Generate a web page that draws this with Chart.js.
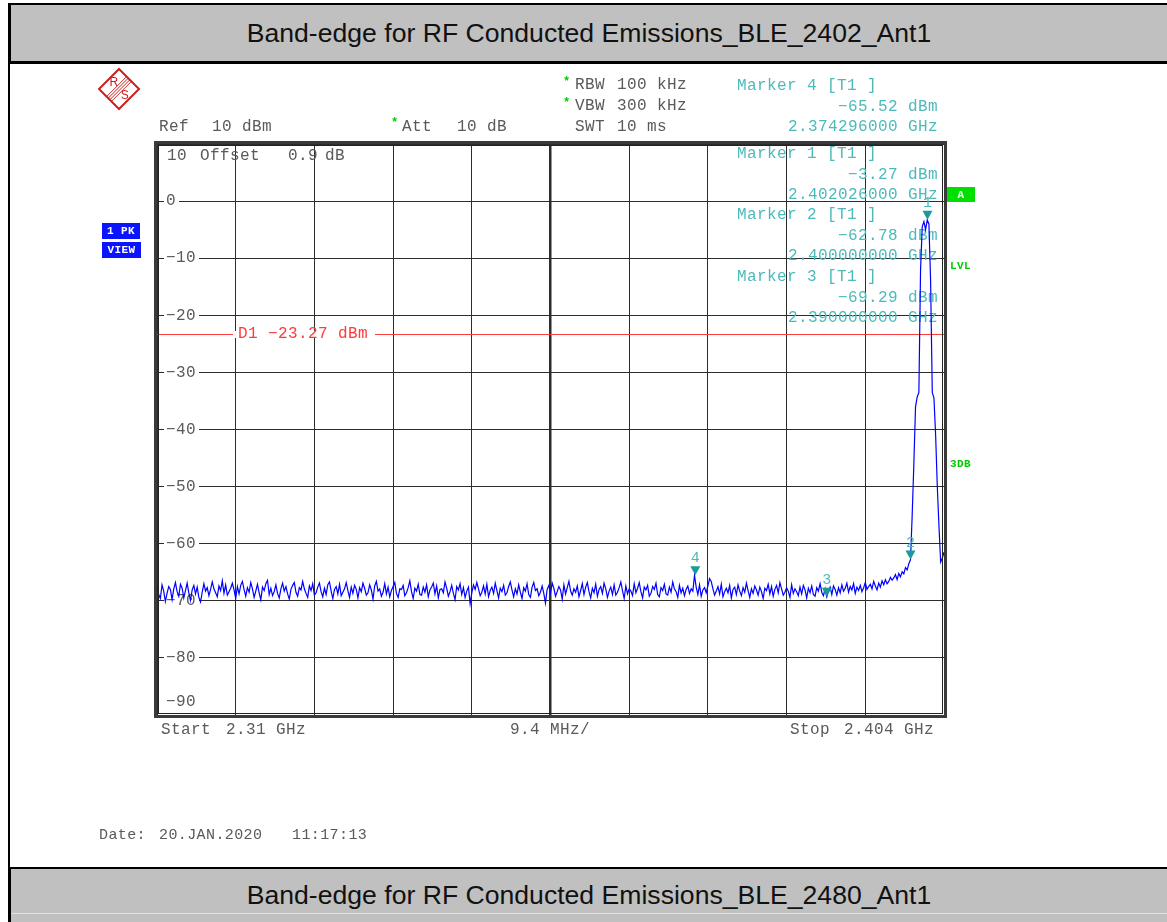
<!DOCTYPE html>
<html>
<head>
<meta charset="utf-8">
<script src="https://cdn.jsdelivr.net/npm/chart.js@4.4.1/dist/chart.umd.min.js"></script>
<style>
  body { margin: 0; background: #fff; width: 1167px; height: 922px; position: relative; overflow: hidden; }
  #plot { position: absolute; left: 0; top: 0; }
  .bar { position: absolute; left: 9px; width: 1158px; background: #c0c0c0; font-family: "Liberation Sans", Arial, sans-serif;
         font-size: 26.6px; color: #111; text-align: center; box-sizing: border-box; }
  #topbar { top: 3px; height: 61px; border-top: 2px solid #000; border-bottom: 3px solid #000; border-left: 2px solid #000; line-height: 56px; }
  #botbar { top: 867px; height: 55px; border-top: 2px solid #000; border-left: 2px solid #000; line-height: 52px; }
  #botbar .hl { position: absolute; left: 0; right: 0; top: 44px; height: 1px; background: #e2e2e2; }
  #leftrule { position: absolute; left: 8px; top: 3px; width: 2px; height: 919px; background: #000; }
</style>
</head>
<body>
<canvas id="plot" width="1167" height="922"></canvas>
<div id="leftrule"></div>
<div class="bar" id="topbar">Band-edge for RF Conducted Emissions_BLE_2402_Ant1</div>
<div class="bar" id="botbar">Band-edge for RF Conducted Emissions_BLE_2480_Ant1<div class="hl"></div></div>
<script>
// --- DADES ---
const FREQ_START = 2310.0; // MHz
const FREQ_STOP = 2404.0;
const FREQ_STEP = 0.2;
const X_GRID = [2310, 2319.4, 2328.8, 2338.2, 2347.6, 2357, 2366.4, 2375.8, 2385.2, 2394.6, 2404];
const Y_TICKS = [10, 0, -10, -20, -30, -40, -50, -60, -70, -80, -90];

// nivell de la traça (dBm), un valor cada 0.2 MHz
const LEVELS = [
  -67.4, -68.9, -69.6, -67.2, -68.3, -70.1, -68.7, -67.5, -68.0, -69.8, -67.9, -66.8, -68.4, -69.2, -67.1, -67.8, -69.5, -68.2, -66.9, -68.6,
  -69.9, -68.1, -67.3, -68.8, -67.6, -69.4, -70.2, -68.5, -67.0, -68.3, -67.7, -69.1, -68.0, -66.7, -67.9, -68.6, -69.3, -67.4, -68.2, -66.5,
  -68.7, -67.2, -69.0, -68.4, -67.8, -66.9, -68.1, -69.6, -67.5, -68.8, -67.3, -66.6, -68.0, -69.2, -67.7, -68.5, -66.8, -67.9, -69.4, -68.3,
  -67.1, -68.6, -69.8, -67.6, -68.2, -67.0, -66.4, -68.9, -67.8, -69.1, -68.4, -67.2, -68.7, -69.5, -67.9, -66.9, -68.3, -67.5, -68.8, -69.7,
  -68.0, -67.3, -66.8, -68.5, -69.2, -67.7, -68.1, -66.6, -67.9, -68.7, -69.4, -67.4, -68.2, -67.0, -69.0, -68.6, -67.6, -66.9, -68.4, -69.3,
  -67.8, -68.9, -67.2, -66.7, -68.3, -69.6, -68.0, -67.5, -68.8, -67.1, -69.1, -68.5, -67.9, -66.8, -68.2, -69.4, -67.6, -68.7, -67.3, -68.0,
  -69.5, -67.7, -68.4, -66.9, -67.8, -69.0, -68.6, -67.2, -68.1, -69.7, -67.4, -66.6, -68.3, -67.9, -69.2, -68.5, -67.0, -68.8, -67.6, -69.3,
  -68.2, -67.5, -66.8, -68.7, -69.4, -67.9, -68.0, -67.3, -69.1, -68.6, -67.7, -66.5, -68.4, -69.6, -67.8, -68.3, -67.1, -68.9, -69.0, -67.6,
  -68.5, -67.2, -69.3, -68.1, -67.6, -66.9, -68.8, -67.4, -69.5, -68.0, -67.9, -68.6, -66.7, -67.8, -69.2, -68.4, -67.3, -68.7, -69.8, -67.5,
  -68.1, -67.0, -68.9, -67.7, -69.4, -68.3, -67.6, -70.5, -68.6, -67.2, -68.0, -66.8, -67.9, -69.1, -68.5, -67.4, -68.8, -67.1, -69.3, -68.2,
  -67.6, -68.7, -66.9, -68.2, -69.5, -67.8, -68.4, -67.3, -69.0, -68.6, -67.5, -66.7, -68.1, -69.3, -67.9, -68.8, -67.2, -68.5, -69.6, -67.7,
  -68.3, -67.0, -68.9, -69.4, -67.6, -66.8, -68.2, -67.9, -69.1, -68.5, -67.4, -68.7, -70.4, -68.0, -67.3, -68.6, -66.9, -67.8, -69.2, -68.4,
  -67.5, -68.1, -69.7, -67.2, -68.8, -67.7, -66.6, -68.3, -69.0, -67.9, -68.5, -67.4, -69.3, -68.2, -67.0, -68.9, -67.6, -66.8, -68.4, -69.5,
  -67.8, -68.6, -67.1, -69.2, -68.0, -67.5, -68.7, -66.9, -67.9, -69.4, -68.3, -67.6, -68.9, -67.2, -69.0, -68.5, -67.7, -66.7, -68.2, -69.6,
  -67.4, -68.8, -67.9, -68.3, -69.1, -67.0, -68.6, -67.8, -66.8, -68.4, -69.5, -67.6, -68.1, -67.3, -69.2, -68.7, -67.5, -68.0, -66.9, -68.9,
  -69.3, -67.7, -68.2, -67.1, -68.8, -69.0, -67.6, -68.5, -66.7, -67.9, -68.4, -69.4, -67.3, -68.6, -67.8, -69.1, -68.0, -67.4, -68.7, -67.9,
  -68.3, -65.5, -67.6, -68.9, -67.2, -69.2, -68.1, -67.7, -68.6, -67.4, -66.1, -66.6, -67.9, -69.0, -68.3, -67.5, -68.8, -67.1, -69.3, -68.4,
  -67.8, -68.6, -67.3, -69.5, -68.0, -67.6, -68.9, -67.2, -68.3, -69.1, -67.7, -68.5, -66.9, -68.2, -69.4, -67.9, -68.7, -67.4, -68.1, -69.0,
  -67.6, -68.4, -69.6, -67.8, -68.2, -67.1, -68.8, -67.5, -69.2, -68.0, -67.3, -68.6, -66.8, -67.9, -69.0, -68.5, -67.7, -68.3, -69.4, -67.2,
  -68.7, -67.9, -68.4, -69.1, -67.6, -68.8, -67.3, -68.1, -69.5, -67.8, -68.6, -67.4, -68.9, -69.2, -67.7, -68.3, -67.0, -68.5, -69.1, -67.9,
  -69.3, -68.2, -67.6, -68.9, -67.4, -68.0, -69.0, -67.7, -68.6, -67.2, -68.3, -67.8, -66.9, -68.5, -67.5, -68.1, -67.0, -68.7, -67.6, -68.2,
  -67.3, -68.4, -67.7, -66.8, -68.0, -67.5, -67.1, -67.9, -66.6, -67.4, -68.1, -66.9, -67.6, -66.5, -67.2, -66.3, -67.0, -66.6, -65.9, -66.4,
  // 2398.0 - 2404.0 MHz: flanc i portadora
  -66.0, -65.4, -66.3, -65.2, -65.8, -64.9, -65.3, -64.2, -64.6, -63.5, -62.8,
  -55.0, -46.0, -36.0, -34.3, -33.5, -12.0, -4.5, -3.6, -5.0, -3.3,
  -4.0, -14.0, -33.5, -34.5, -41.0, -50.0, -57.0, -63.2, -62.5, -61.5
];

// markers
const MARKER_IDS = [1, 2, 3, 4];
const MARKER_FREQ = [2402.026, 2400.0, 2390.0, 2374.296]; // MHz
const MARKER_LEVEL = [-3.27, -62.78, -69.29, -65.52]; // dBm
const MARKER_ORDER = [4, 1, 2, 3]; // ordre a la llista

const D1_LEVEL = -23.27;

// --- ESTILS ---
const MONO = "'Liberation Mono', 'Courier New', monospace";
const GREY = "#5a5a5a";
const TEAL = "#4dbaba";
const TEAL_DARK = "#1b9a9a";
const RED = "#ff3a3a";
const GREEN = "#00cc00";

function txt(ctx, s, x, y, color, align, font) {
  ctx.font = font || "16px " + MONO;
  ctx.fillStyle = color;
  ctx.textAlign = align || "left";
  ctx.textBaseline = "middle";
  ctx.fillText(s, x, y);
}

function fmtMinus(v, d) {
  return (v < 0 ? "\u2212" : "") + Math.abs(v).toFixed(d);
}

// text de capçalera i logo
function drawHeader(ctx) {
  // logo R&S
  ctx.save();
  ctx.translate(119, 89);
  ctx.strokeStyle = "#cc2020";
  ctx.lineWidth = 2;
  ctx.beginPath();
  ctx.moveTo(0, -20); ctx.lineTo(20, 0); ctx.lineTo(0, 20); ctx.lineTo(-20, 0); ctx.closePath();
  ctx.stroke();
  ctx.lineWidth = 1;
  for (let k = -1.5; k <= 1.5; k += 1) {
    const px = k * 1.6, py = k * 1.6;
    ctx.beginPath();
    ctx.moveTo(px - 10, py + 10);
    ctx.lineTo(px + 10, py - 10);
    ctx.stroke();
  }
  ctx.fillStyle = "#cc2020";
  ctx.font = "12px 'Liberation Sans', sans-serif";
  ctx.textAlign = "center";
  ctx.textBaseline = "middle";
  ctx.fillText("R", -5, -6);
  ctx.fillText("S", 6, 7);
  ctx.restore();

  txt(ctx, "Ref", 159, 127, GREY);
  txt(ctx, "10 dBm", 212, 127, GREY);
  txt(ctx, "*", 391, 123, GREEN, "left", "bold 12px " + MONO);
  txt(ctx, "Att", 402, 127, GREY);
  txt(ctx, "10 dB", 457, 127, GREY);

  txt(ctx, "*", 563, 82, GREEN, "left", "bold 12px " + MONO);
  txt(ctx, "RBW", 575, 85, GREY);
  txt(ctx, "100 kHz", 617, 85, GREY);
  txt(ctx, "*", 563, 103, GREEN, "left", "bold 12px " + MONO);
  txt(ctx, "VBW", 575, 106, GREY);
  txt(ctx, "300 kHz", 617, 106, GREY);
  txt(ctx, "SWT", 575, 127, GREY);
  txt(ctx, "10 ms", 617, 127, GREY);

  // bloc esquerre
  ctx.fillStyle = "#0a14ff";
  ctx.fillRect(102, 223, 38, 16);
  ctx.fillRect(102, 242, 39, 16);
  txt(ctx, "1 PK", 121, 231.5, "#fff", "center", "bold 11px " + MONO);
  txt(ctx, "VIEW", 121.5, 250.5, "#fff", "center", "bold 11px " + MONO);

  // bloc dret
  ctx.fillStyle = "#00e000";
  ctx.fillRect(947, 187, 28, 15);
  txt(ctx, "A", 961, 195, "#fff", "center", "bold 11px " + MONO);
  txt(ctx, "LVL", 950, 266, GREEN, "left", "bold 11px " + MONO);
  txt(ctx, "3DB", 950, 464, GREEN, "left", "bold 11px " + MONO);

  txt(ctx, "Start", 161, 730, GREY);
  txt(ctx, "2.31 GHz", 226, 730, GREY);
  txt(ctx, "9.4 MHz/", 510, 730, GREY);
  txt(ctx, "Stop", 790, 730, GREY);
  txt(ctx, "2.404 GHz", 934, 730, GREY, "right");

  txt(ctx, "Date:", 99, 835, GREY, "left", "15px " + MONO);
  txt(ctx, "20.JAN.2020", 159, 835, GREY, "left", "15px " + MONO);
  txt(ctx, "11:17:13", 292, 835, GREY, "left", "15px " + MONO);
}

const instrumentPlugin = {
  id: "instrument",
  beforeDatasetsDraw(chart) {
    const { ctx, chartArea: a, scales } = chart;
    const ys = scales.y;
    ctx.save();
    ctx.letterSpacing = "0.4px";

    // etiquetes de l'eix Y dins del gràfic
    Y_TICKS.forEach((v) => {
      let y = ys.getPixelForValue(v);
      if (v === Y_TICKS[0]) {
        y += 12;
        txt(ctx, "10", 167, y, GREY);
        txt(ctx, "Offset", 200, y, GREY);
        txt(ctx, "0.9", 288, y, GREY);
        txt(ctx, "dB", 325, y, GREY);
        return;
      }
      if (v === Y_TICKS[Y_TICKS.length - 1]) y -= 13;
      const s = fmtMinus(v, 0);
      ctx.font = "16px " + MONO;
      const w = ctx.measureText(s).width;
      ctx.fillStyle = "#fff";
      ctx.fillRect(a.left + 7, y - 3, w + 5, 6);
      txt(ctx, s, a.left + 9, y, GREY);
    });

    // línia D1
    const yd = ys.getPixelForValue(D1_LEVEL);
    ctx.strokeStyle = RED;
    ctx.lineWidth = 1;
    ctx.beginPath();
    ctx.moveTo(a.left, yd + 0.5);
    ctx.lineTo(a.right, yd + 0.5);
    ctx.stroke();
    const lab = "D1 " + fmtMinus(D1_LEVEL, 2) + " dBm";
    ctx.font = "16px " + MONO;
    const lw = ctx.measureText(lab).width;
    ctx.fillStyle = "#fff";
    ctx.fillRect(233, yd - 3, lw + 12, 7);
    txt(ctx, lab, 238, yd, RED);

    // llista de markers
    MARKER_ORDER.forEach((id, k) => {
      const i = MARKER_IDS.indexOf(id);
      const y0 = [86, 154, 215, 277][k];
      txt(ctx, "Marker " + id + " [T1 ]", 737, y0, TEAL);
      txt(ctx, fmtMinus(MARKER_LEVEL[i], 2) + " dBm", 938, y0 + 20.5, TEAL, "right");
      txt(ctx, (MARKER_FREQ[i] / 1000).toFixed(9) + " GHz", 938, y0 + 40.5, TEAL, "right");
    });

    drawHeader(ctx);
    ctx.restore();
  },
  afterDatasetsDraw(chart) {
    const { ctx, chartArea: a, scales } = chart;
    ctx.save();
    // triangles de marker
    MARKER_IDS.forEach((id, i) => {
      const x = scales.x.getPixelForValue(MARKER_FREQ[i]);
      const y = scales.y.getPixelForValue(MARKER_LEVEL[i]);
      ctx.fillStyle = TEAL_DARK;
      ctx.beginPath();
      ctx.moveTo(x - 5, y - 9);
      ctx.lineTo(x + 5, y - 9);
      ctx.lineTo(x, y);
      ctx.closePath();
      ctx.fill();
      txt(ctx, String(id), x, y - 17, TEAL, "center", "15px " + MONO);
    });

    // marc
    ctx.strokeStyle = "#3a3a3a";
    ctx.lineWidth = 3;
    ctx.strokeRect(a.left - 1.5, a.top - 1.5, a.right - a.left + 3, a.bottom - a.top + 3);
    ctx.lineWidth = 1;
    ctx.strokeStyle = "#222";
    ctx.strokeRect(a.left + 1.5, a.top + 1.5, a.right - a.left - 3, a.bottom - a.top - 3);
    ctx.restore();
  },
};

const points = LEVELS.map((v, i) => ({ x: FREQ_START + i * FREQ_STEP, y: v }));

new Chart(document.getElementById("plot"), {
  type: "line",
  data: {
    datasets: [
      {
        label: "Trace 1",
        data: points,
        borderColor: "#0000ff",
        borderWidth: 1.2,
        pointRadius: 0,
        tension: 0,
      },
    ],
  },
  options: {
    responsive: false,
    animation: false,
    events: [],
    layout: { padding: { left: 157, top: 144, right: 223, bottom: 207 } },
    plugins: { legend: { display: false }, tooltip: { enabled: false } },
    scales: {
      x: {
        type: "linear",
        min: FREQ_START,
        max: FREQ_STOP,
        afterBuildTicks: (s) => { s.ticks = X_GRID.map((v) => ({ value: v })); },
        afterFit: (s) => { s.height = 0; },
        ticks: { display: false },
        border: { display: false },
        grid: {
          drawTicks: false,
          color: "#2c2c2c",
          lineWidth: (c) => (c.index === 5 ? 2.5 : 1),
        },
      },
      y: {
        type: "linear",
        min: -90,
        max: 10,
        afterBuildTicks: (s) => { s.ticks = Y_TICKS.map((v) => ({ value: v })); },
        afterFit: (s) => { s.width = 0; },
        ticks: { display: false },
        border: { display: false },
        grid: { drawTicks: false, color: "#2c2c2c", lineWidth: 1 },
      },
    },
  },
  plugins: [instrumentPlugin],
});
</script>
</body>
</html>
